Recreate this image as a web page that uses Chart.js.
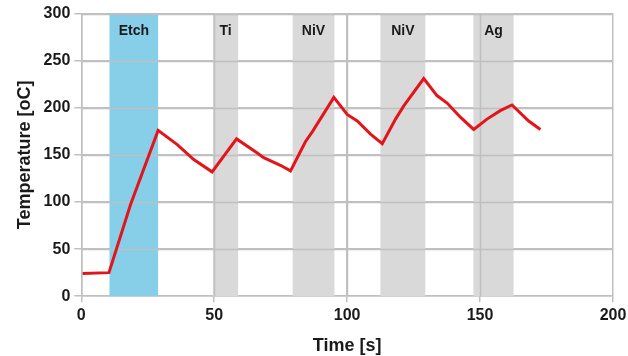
<!DOCTYPE html>
<html>
<head>
<meta charset="utf-8">
<script src="https://cdn.jsdelivr.net/npm/chart.js@4/dist/chart.umd.min.js"></script>
<style>
  html, body { margin: 0; padding: 0; background: #fff; }
  #wrap { width: 628px; height: 356px; }
</style>
</head>
<body>
<div id="wrap"><canvas id="tempChart" width="628" height="356"></canvas></div>
<script>
  // temperature curve
  const tiempos = [0.5, 10.4, 18.5, 28.9, 36.1, 42.3, 49.2, 58.4, 66.2, 68.6, 74.9, 78.7, 84.3, 87, 95, 100, 103.8, 108.8, 113.2, 118.2, 121.3, 128.8, 133.8, 137.6, 142.6, 147.6, 152.6, 157.6, 162, 168.3, 172.7];
  const temperaturas = [24, 25, 97, 176, 161, 145, 132, 167, 152, 147, 139, 133, 164, 175, 211, 193, 186, 172, 162, 188, 202, 231, 213, 205, 190, 177, 188, 197, 203, 186, 177];

  // process steps (shaded bands)
  const etapas = ['Etch', 'Ti', 'NiV', 'NiV', 'Ag'];
  const etapaInicio = [10.6, 49.5, 79.5, 112.5, 147.5];
  const etapaFim = [28.9, 59.0, 95.2, 129.4, 162.6];
  const etapaCores = ['#87cee8', '#d9d9d9', '#d9d9d9', '#d9d9d9', '#d9d9d9'];

  const xTicks = [0, 50, 100, 150, 200];
  const yTicks = [0, 50, 100, 150, 200, 250, 300];

  const fonte = '"Liberation Sans", Arial, sans-serif';

  const bandasPlugin = {
    id: 'bandas',
    beforeDatasetsDraw(chart) {
      const { ctx, chartArea, scales } = chart;
      ctx.save();
      etapas.forEach((nome, i) => {
        const x0 = scales.x.getPixelForValue(etapaInicio[i]);
        const x1 = scales.x.getPixelForValue(etapaFim[i]);
        ctx.fillStyle = etapaCores[i];
        ctx.fillRect(x0, chartArea.top, x1 - x0, chartArea.bottom - chartArea.top);
      });
      // redraw grid on top of the bands
      ctx.strokeStyle = '#c0c0c0';
      ctx.lineWidth = 1.5;
      xTicks.slice(1, -1).forEach(v => {
        const x = Math.round(scales.x.getPixelForValue(v)) + 0.5;
        ctx.beginPath();
        ctx.moveTo(x, chartArea.top);
        ctx.lineTo(x, chartArea.bottom);
        ctx.stroke();
      });
      yTicks.slice(1).forEach(v => {
        const y = Math.round(scales.y.getPixelForValue(v)) + 0.5;
        ctx.beginPath();
        ctx.moveTo(chartArea.left, y);
        ctx.lineTo(chartArea.right, y);
        ctx.stroke();
      });
      ctx.fillStyle = '#1a1a1a';
      ctx.font = 'bold 14px ' + fonte;
      ctx.textAlign = 'center';
      ctx.textBaseline = 'middle';
      etapas.forEach((nome, i) => {
        const xc = (scales.x.getPixelForValue(etapaInicio[i]) + scales.x.getPixelForValue(etapaFim[i])) / 2;
        ctx.fillText(nome, xc, chartArea.top + 18);
      });
      ctx.restore();
    }
  };

  new Chart(document.getElementById('tempChart').getContext('2d'), {
    type: 'line',
    data: {
      datasets: [{
        data: tiempos.map((t, i) => ({ x: t, y: temperaturas[i] })),
        borderColor: '#e3141b',
        borderWidth: 3,
        pointRadius: 0,
        tension: 0,
        fill: false
      }]
    },
    options: {
      responsive: false,
      animation: false,
      layout: { padding: { left: 10, right: 15, top: 11, bottom: 0 } },
      plugins: { legend: { display: false }, tooltip: { enabled: false } },
      scales: {
        x: {
          type: 'linear',
          min: 0,
          max: 200,
          afterBuildTicks: axis => { axis.ticks = xTicks.map(v => ({ value: v })); },
          afterFit: axis => { axis.paddingRight = 0; },
          grid: { color: '#c0c0c0', lineWidth: 1.5, tickLength: 6 },
          border: { color: '#c0c0c0', width: 1.5 },
          ticks: { color: '#1a1a1a', font: { family: fonte, size: 16, weight: 'bold' }, padding: 4 },
          title: { display: true, text: 'Time [s]', color: '#1a1a1a', font: { family: fonte, size: 18, weight: 'bold' }, padding: { top: 6, bottom: -1 } }
        },
        y: {
          min: 0,
          max: 300,
          afterBuildTicks: axis => { axis.ticks = yTicks.map(v => ({ value: v })); },
          grid: { color: '#c0c0c0', lineWidth: 1.5, tickLength: 7 },
          border: { color: '#c0c0c0', width: 1.5 },
          ticks: { color: '#1a1a1a', font: { family: fonte, size: 16, weight: 'bold' }, padding: 4 },
          title: { display: true, text: 'Temperature [oC]', color: '#1a1a1a', font: { family: fonte, size: 18, weight: 'bold' }, padding: { bottom: 4 } }
        }
      }
    },
    plugins: [bandasPlugin]
  });
</script>
</body>
</html>
